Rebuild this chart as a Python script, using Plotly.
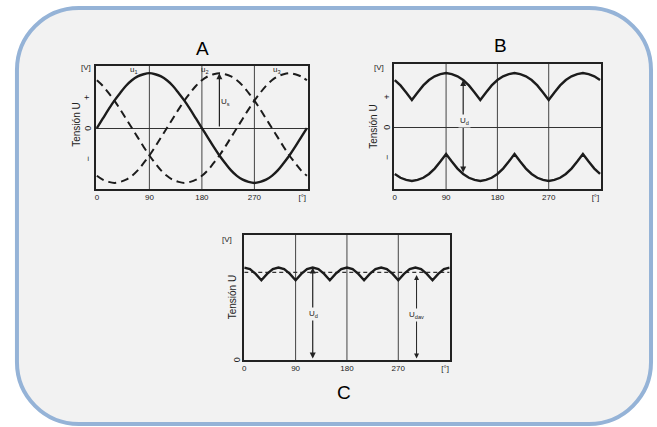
import plotly.graph_objects as go

# ---------------- data (10 degree steps) ----------------
deg = list(range(0, 361, 10))

# A: three phase voltages (normalised to peak)
u1 = [0, .17, .34, .50, .64, .77, .87, .94, .98, 1.0, .98, .94, .87, .77, .64, .50, .34, .17,
      0, -.17, -.34, -.50, -.64, -.77, -.87, -.94, -.98, -1.0, -.98, -.94, -.87, -.77, -.64, -.50, -.34, -.17, 0]
u2 = [-.87, -.94, -.98, -1.0, -.98, -.94, -.87, -.77, -.64, -.50, -.34, -.17, 0, .17, .34, .50, .64, .77,
      .87, .94, .98, 1.0, .98, .94, .87, .77, .64, .50, .34, .17, 0, -.17, -.34, -.50, -.64, -.77, -.87]
u3 = [.87, .77, .64, .50, .34, .17, 0, -.17, -.34, -.50, -.64, -.77, -.87, -.94, -.98, -1.0, -.98, -.94,
      -.87, -.77, -.64, -.50, -.34, -.17, 0, .17, .34, .50, .64, .77, .87, .94, .98, 1.0, .98, .94, .87]

# B: upper and lower envelopes
b_upper = [.87, .77, .64, .50, .64, .77, .87, .94, .98, 1.0, .98, .94, .87, .77, .64, .50, .64, .77,
           .87, .94, .98, 1.0, .98, .94, .87, .77, .64, .50, .64, .77, .87, .94, .98, 1.0, .98, .94, .87]
b_lower = [-.87, -.94, -.98, -1.0, -.98, -.94, -.87, -.77, -.64, -.50, -.64, -.77, -.87, -.94, -.98, -1.0, -.98, -.94,
           -.87, -.77, -.64, -.50, -.64, -.77, -.87, -.94, -.98, -1.0, -.98, -.94, -.87, -.77, -.64, -.50, -.64, -.77, -.87]

# C: rectified voltage and its mean value
c_ud = [1.74, 1.71, 1.62, 1.50, 1.62, 1.71, 1.74, 1.71, 1.62, 1.50, 1.62, 1.71, 1.74, 1.71, 1.62, 1.50, 1.62, 1.71,
        1.74, 1.71, 1.62, 1.50, 1.62, 1.71, 1.74, 1.71, 1.62, 1.50, 1.62, 1.71, 1.74, 1.71, 1.62, 1.50, 1.62, 1.71, 1.74]
c_udav = 1.65

# ticks / labels
x_tickvals = [0, 90, 180, 270, 352]
x_ticktext = ['0', '90', '180', '270', '[°]']
grid_x = [90, 180, 270]
ab_ytick_vals = [0.56, 0, -0.56]
ab_ytick_text = ['+', '0', '−']
phase_labels = ['u<sub>1</sub>', 'u<sub>2</sub>', 'u<sub>3</sub>']
phase_label_x = [63, 185, 309]
panel_titles = ['A', 'B', 'C']
y_title = 'Tensión U'

# ---------------- layout helpers ----------------
W, H = 657, 427
def px(x):
    return x / W
def py(y):
    return 1 - y / H

INK = '#1c1c1c'
TXT = '#222222'
FONT = 'Liberation Sans'

fig = go.Figure()

# A
fig.add_trace(go.Scatter(x=deg, y=u1, mode='lines', line=dict(color=INK, width=2.4, shape='spline'),
                         xaxis='x', yaxis='y', showlegend=False, hoverinfo='skip'))
for s in (u2, u3):
    fig.add_trace(go.Scatter(x=deg, y=s, mode='lines',
                             line=dict(color=INK, width=2, dash='8px,5px', shape='spline'),
                             xaxis='x', yaxis='y', showlegend=False, hoverinfo='skip'))
# B
for s in (b_upper, b_lower):
    fig.add_trace(go.Scatter(x=deg, y=s, mode='lines', line=dict(color=INK, width=2.4),
                             xaxis='x2', yaxis='y2', showlegend=False, hoverinfo='skip'))
# C
fig.add_trace(go.Scatter(x=deg, y=[c_udav] * len(deg), mode='lines',
                         line=dict(color='#333', width=1.2, dash='4px,3px'),
                         xaxis='x3', yaxis='y3', showlegend=False, hoverinfo='skip'))
fig.add_trace(go.Scatter(x=deg, y=c_ud, mode='lines', line=dict(color=INK, width=2.4),
                         xaxis='x3', yaxis='y3', showlegend=False, hoverinfo='skip'))

axis_common = dict(showline=True, mirror=True, linecolor='#222', linewidth=1.5, showgrid=False,
                   ticks='', fixedrange=True)
xcommon = dict(axis_common, tickvals=x_tickvals, ticktext=x_ticktext, zeroline=False,
               tickfont=dict(size=8, color=TXT, family=FONT))
ycommon = dict(axis_common, showticklabels=False, zeroline=True, zerolinecolor='#333', zerolinewidth=1)

shapes = []
# outer rounded box
L, R, T, B, r = 15, 651, 8, 424, 62
k = 0.5523 * r
def P(x, y):
    return f'{px(x):.5f},{py(y):.5f}'
path = (f'M {P(L + r, T)} L {P(R - r, T)} C {P(R - r + k, T)} {P(R, T + r - k)} {P(R, T + r)} '
        f'L {P(R, B - r)} C {P(R, B - r + k)} {P(R - r + k, B)} {P(R - r, B)} '
        f'L {P(L + r, B)} C {P(L + r - k, B)} {P(L, B - r + k)} {P(L, B - r)} '
        f'L {P(L, T + r)} C {P(L, T + r - k)} {P(L + r - k, T)} {P(L + r, T)} Z')
shapes.append(dict(type='path', path=path, xref='paper', yref='paper', layer='below',
                   fillcolor='#F2F2F2', line=dict(color='#95B3D7', width=4)))
for xa, ya in (('x', 'y'), ('x2', 'y2'), ('x3', 'y3')):
    for g in grid_x:
        shapes.append(dict(type='line', xref=xa, yref=ya + ' domain', x0=g, x1=g, y0=0, y1=1,
                           layer='below', line=dict(color='#444', width=1)))

ann = []
# panel titles
for t, (x, y) in zip(panel_titles, [(201, 48), (500, 45), (343, 392)]):
    ann.append(dict(text=t, x=px(x), y=py(y), xref='paper', yref='paper', showarrow=False,
                    font=dict(size=19, color='black', family=FONT), xanchor='center', yanchor='middle'))
# y titles
for x, y in [(74, 125), (372, 127), (231, 297)]:
    ann.append(dict(text=y_title, x=px(x), y=py(y), xref='paper', yref='paper', showarrow=False,
                    textangle=-90, font=dict(size=10, color=TXT, family=FONT), xanchor='center', yanchor='middle'))
# [V] labels
for x, y in [(84, 68), (378, 68), (226, 240)]:
    ann.append(dict(text='[V]', x=px(x), y=py(y), xref='paper', yref='paper', showarrow=False,
                    font=dict(size=8, color=TXT, family=FONT), xanchor='center', yanchor='middle'))
# +, 0, - labels on A and B
for xp, yref in [(86, 'y'), (386, 'y2')]:
    for v, t in zip(ab_ytick_vals, ab_ytick_text):
        ann.append(dict(text=t, x=px(xp), y=v, xref='paper', yref=yref, showarrow=False, textangle=-90,
                        font=dict(size=9, color=TXT, family=FONT), xanchor='center', yanchor='middle'))
# 0 label on C
ann.append(dict(text='0', x=px(236), y=0, xref='paper', yref='y3', showarrow=False, textangle=-90,
                font=dict(size=9, color=TXT, family=FONT), xanchor='center', yanchor='middle'))
# phase labels in A
for t, xv in zip(phase_labels, phase_label_x):
    ann.append(dict(text=t, x=xv, y=1.05, xref='x', yref='y', showarrow=False,
                    font=dict(size=8, color=TXT, family=FONT)))

arrow_style = dict(showarrow=True, arrowhead=2, arrowsize=1, arrowwidth=1.2, arrowcolor='#222', text='')
# A arrow: from zero to peak of u2 at 210 deg
ia = deg.index(210)
ann.append(dict(arrow_style, x=210, y=u2[ia], ax=210, ay=0, xref='x', yref='y', axref='x', ayref='y',
                arrowside='end'))
ann.append(dict(text='U<sub>s</sub>', x=220, y=0.47, xref='x', yref='y', showarrow=False,
                font=dict(size=8, color=TXT, family=FONT)))
# B arrow at 120 deg
ib = deg.index(120)
ann.append(dict(arrow_style, x=120, y=b_upper[ib], ax=120, ay=b_lower[ib], xref='x2', yref='y2',
                axref='x2', ayref='y2', arrowside='end+start'))
ann.append(dict(text='U<sub>d</sub>', x=122, y=0.12, xref='x2', yref='y2', showarrow=False,
                bgcolor='#F2F2F2', font=dict(size=8, color=TXT, family=FONT)))
# C arrows
ann.append(dict(arrow_style, x=120, y=c_ud[ib], ax=120, ay=0, xref='x3', yref='y3',
                axref='x3', ayref='y3', arrowside='end+start'))
ann.append(dict(text='U<sub>d</sub>', x=121, y=0.86, xref='x3', yref='y3', showarrow=False,
                bgcolor='#F2F2F2', font=dict(size=8, color=TXT, family=FONT)))
ann.append(dict(arrow_style, x=302, y=c_udav - 0.05, ax=302, ay=0, xref='x3', yref='y3',
                axref='x3', ayref='y3', arrowside='end+start', arrowwidth=1))
ann.append(dict(text='U<sub>dav</sub>', x=302, y=0.85, xref='x3', yref='y3', showarrow=False,
                bgcolor='#F2F2F2', font=dict(size=8, color=TXT, family=FONT)))

fig.update_layout(
    width=W, height=H, margin=dict(l=0, r=0, t=0, b=0),
    paper_bgcolor='white', plot_bgcolor='rgba(0,0,0,0)', showlegend=False,
    xaxis=dict(xcommon, domain=[px(94), px(307)], range=[-2, 362], anchor='y'),
    yaxis=dict(ycommon, domain=[py(189), py(66)], range=[-1.11, 1.13], anchor='x'),
    xaxis2=dict(xcommon, domain=[px(393), px(601)], range=[-1.7, 362], anchor='y2'),
    yaxis2=dict(ycommon, domain=[py(189), py(64)], range=[-1.148, 1.167], anchor='x2'),
    xaxis3=dict(xcommon, domain=[px(243), px(449)], range=[0, 360], anchor='y3'),
    yaxis3=dict(ycommon, domain=[py(360), py(235)], range=[0, 2.353], anchor='x3', zeroline=False),
    shapes=shapes, annotations=ann,
)

fig.write_html('out.html', config={'displayModeBar': False},
               post_script="document.body.style.margin='0';document.body.style.overflow='hidden';")
